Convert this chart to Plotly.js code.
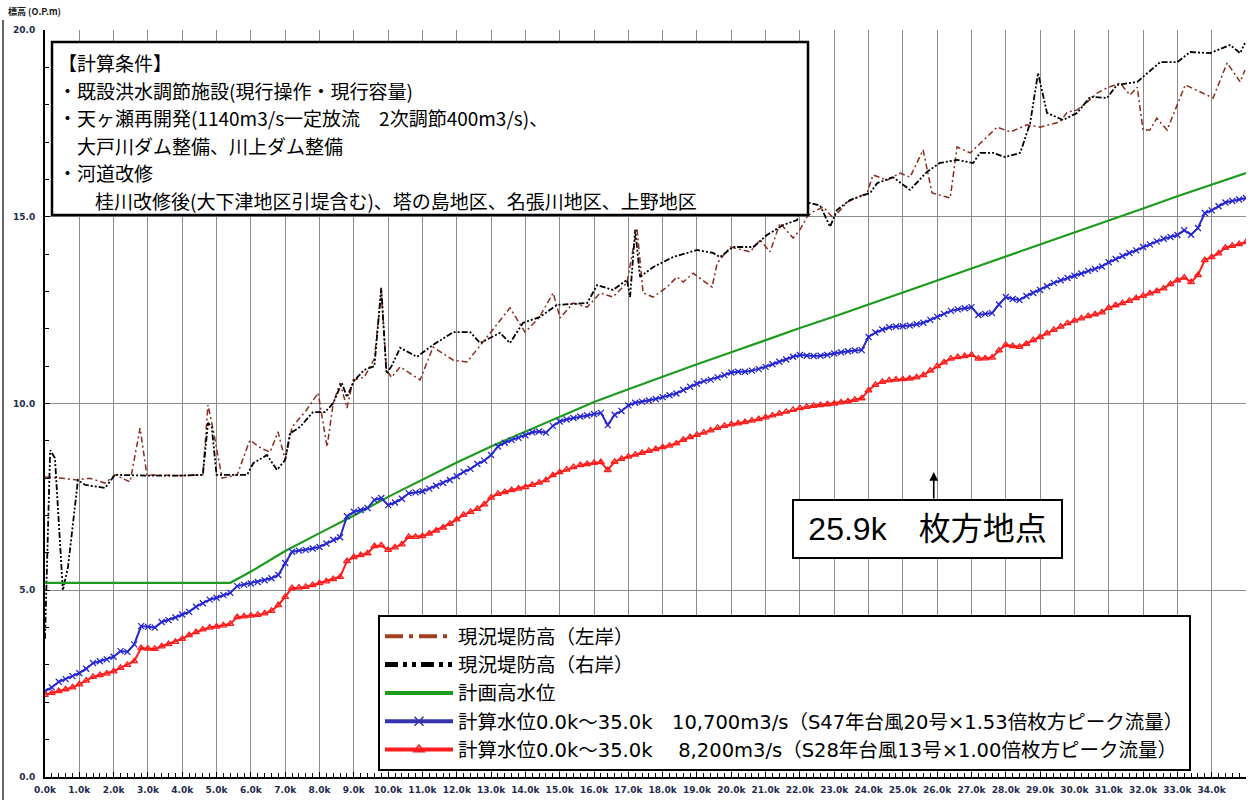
<!DOCTYPE html>
<html>
<head>
<meta charset="utf-8">
<script src="https://cdn.plot.ly/plotly-3.0.1.min.js"></script>
<style>
html,body{margin:0;padding:0;background:#fff;}
#chart{width:1257px;height:800px;}
</style>
</head>
<body>
<div id="chart"></div>
<script>
// ---- data ----
const stationKm = Array.from({length: 176}, (_, i) => Math.round(i * 2) / 10);

const blue10700 = [
  2.30,2.40,2.55,2.62,2.70,
  2.78,2.90,3.05,3.10,3.15,
  3.22,3.37,3.35,3.55,4.04,
  4.02,4.00,4.15,4.20,4.27,
  4.35,4.42,4.56,4.65,4.75,
  4.80,4.87,4.93,5.11,5.15,
  5.18,5.22,5.27,5.32,5.41,
  5.73,6.03,6.06,6.08,6.12,
  6.16,6.25,6.35,6.42,6.98,
  7.10,7.15,7.20,7.42,7.47,
  7.28,7.35,7.45,7.60,7.62,
  7.65,7.72,7.80,7.87,7.95,
  8.05,8.17,8.25,8.38,8.47,
  8.62,8.85,8.95,9.02,9.08,
  9.15,9.23,9.25,9.22,9.40,
  9.52,9.57,9.61,9.65,9.68,
  9.72,9.75,9.42,9.70,9.80,
  9.95,10.02,10.05,10.08,10.12,
  10.17,10.22,10.27,10.36,10.45,
  10.53,10.60,10.64,10.70,10.76,
  10.83,10.85,10.85,10.88,10.92,
  10.98,11.05,11.12,11.18,11.25,
  11.30,11.28,11.27,11.28,11.30,
  11.34,11.37,11.40,11.42,11.43,
  11.78,11.90,11.98,12.04,12.06,
  12.07,12.09,12.12,12.16,12.24,
  12.32,12.40,12.48,12.52,12.55,
  12.58,12.37,12.40,12.42,12.65,
  12.85,12.80,12.77,12.88,12.96,
  13.04,13.14,13.23,13.30,13.36,
  13.42,13.48,13.55,13.60,13.67,
  13.78,13.87,13.95,14.03,14.10,
  14.19,14.26,14.34,14.41,14.46,
  14.51,14.64,14.52,14.70,15.10,
  15.17,15.28,15.38,15.42,15.46,
  15.50
];

const red8200 = [
  2.20,2.25,2.30,2.35,2.40,
  2.48,2.58,2.68,2.73,2.77,
  2.83,2.92,3.00,3.10,3.45,
  3.44,3.43,3.50,3.56,3.62,
  3.70,3.80,3.88,3.95,4.00,
  4.03,4.06,4.10,4.28,4.30,
  4.32,4.34,4.38,4.45,4.60,
  4.82,5.06,5.07,5.09,5.14,
  5.19,5.24,5.30,5.36,5.78,
  5.89,5.94,5.99,6.18,6.20,
  6.08,6.15,6.23,6.43,6.43,
  6.45,6.52,6.60,6.68,6.78,
  6.90,7.02,7.10,7.18,7.30,
  7.48,7.58,7.63,7.68,7.72,
  7.76,7.82,7.88,7.95,8.08,
  8.16,8.23,8.30,8.35,8.38,
  8.41,8.43,8.22,8.44,8.52,
  8.58,8.63,8.68,8.73,8.78,
  8.83,8.87,8.93,9.03,9.10,
  9.16,9.22,9.28,9.35,9.40,
  9.44,9.47,9.50,9.54,9.58,
  9.63,9.68,9.73,9.78,9.83,
  9.88,9.91,9.94,9.96,9.98,
  10.00,10.03,10.06,10.10,10.14,
  10.35,10.50,10.58,10.62,10.64,
  10.65,10.67,10.70,10.76,10.88,
  11.00,11.10,11.20,11.24,11.27,
  11.30,11.20,11.21,11.23,11.42,
  11.57,11.54,11.52,11.60,11.70,
  11.78,11.88,11.97,12.06,12.15,
  12.22,12.28,12.34,12.39,12.44,
  12.56,12.63,12.69,12.75,12.82,
  12.88,12.95,13.01,13.08,13.20,
  13.30,13.37,13.25,13.44,13.84,
  13.92,14.02,14.17,14.22,14.27,
  14.32
];

const planKm  = [0, 5.4, 6.0, 7.0, 8.0, 9.0, 10.0, 11.0, 12.0, 13.0, 14.0, 15.0, 16.0, 17.0, 18.0, 19.0, 20.0, 21.0, 22.0, 23.0, 24.0, 25.0, 26.0, 27.0, 28.0, 29.0, 30.0, 31.0, 32.0, 33.0, 34.0, 35.0];
const planHWL = [5.2, 5.2, 5.5, 6.05, 6.53, 7.0, 7.5, 7.97, 8.42, 8.85, 9.25, 9.65, 10.04, 10.38, 10.72, 11.05, 11.37, 11.7, 12.02, 12.33, 12.65, 12.97, 13.3, 13.6, 13.92, 14.25, 14.57, 14.9, 15.22, 15.55, 15.87, 16.17];

const leftKm = [0.0,0.5,0.93,1.3,1.75,2.04,2.48,2.77,2.97,3.5,4.0,4.6,4.75,4.9,5.16,5.6,5.97,6.3,6.56,6.79,7.0,7.2,7.6,7.96,8.22,8.4,8.6,8.8,8.98,9.3,9.6,9.8,9.95,10.1,10.35,10.93,11.31,11.9,12.3,12.88,13.55,13.99,14.4,14.81,15.01,15.39,15.8,16.18,16.55,16.96,17.25,17.43,17.72,18.13,18.42,18.6,18.89,19.15,19.44,19.59,19.97,20.55,20.84,21.13,21.42,21.8,22.0,22.21,22.38,22.68,22.97,23.38,23.96,24.13,24.54,24.92,25.21,25.59,25.85,26.38,26.58,26.96,27.34,27.75,28.13,28.62,29.0,29.58,29.79,30.08,30.37,30.66,30.95,31.33,31.62,31.83,32.0,32.2,32.4,32.7,33.23,34.04,34.45,34.83,34.97];
const leftBank = [8.03,8.0,7.95,8.0,7.87,8.09,7.9,9.34,8.09,8.07,8.07,8.09,9.96,9.3,8.0,8.09,9.02,8.8,8.7,9.24,8.49,9.37,9.8,10.28,8.84,10.01,10.55,9.88,10.63,10.7,11.2,13.0,10.9,10.7,10.98,10.63,11.51,11.16,11.11,11.78,12.56,11.91,12.3,12.96,12.29,12.69,12.58,12.96,12.85,13.23,14.7,12.96,12.85,13.12,13.39,13.25,13.49,13.31,13.12,13.76,14.19,14.06,14.38,14.06,14.83,14.43,14.65,15.0,15.13,15.26,14.97,15.39,15.64,16.12,15.98,16.17,16.06,16.79,15.64,15.5,16.87,16.71,17.05,17.4,17.27,17.46,17.4,17.54,17.8,17.86,18.07,18.31,18.45,18.58,18.26,18.47,17.32,17.32,17.64,17.32,18.53,18.18,19.12,18.61,18.93];

const rightKm = [0.0,0.15,0.29,0.52,0.67,0.96,1.17,1.6,1.75,2.04,3.0,4.0,4.6,4.75,4.86,5.0,5.89,6.07,6.47,6.76,7.0,7.14,7.43,7.81,8.16,8.4,8.65,8.8,9.0,9.3,9.6,9.8,9.95,10.1,10.35,10.84,11.31,11.9,12.39,12.68,13.26,13.55,13.93,14.43,14.92,15.8,16.09,16.55,16.96,17.05,17.2,17.34,17.72,18.3,19.0,19.47,19.67,20.05,20.64,21.04,21.51,21.92,22.0,22.3,22.59,22.88,23.08,23.46,24.05,24.25,24.71,25.21,25.7,26.08,26.58,27.05,27.25,27.63,27.98,28.42,28.71,28.94,29.2,29.67,30.08,30.46,30.95,31.24,31.83,32.5,33.0,33.37,33.95,34.54,34.83,34.97];
const rightBank = [3.7,8.75,8.54,5.0,5.62,7.95,7.82,7.76,7.74,8.09,8.07,8.07,8.09,9.48,9.37,8.09,8.09,8.4,8.62,8.22,8.49,9.2,9.37,9.77,9.77,10.01,10.55,10.17,10.6,10.9,11.0,13.1,10.8,11.0,11.49,11.25,11.57,11.91,11.91,11.62,11.89,11.62,12.16,12.32,12.64,12.69,13.17,13.04,13.31,12.85,14.65,13.39,13.65,13.92,14.11,14.03,13.92,14.19,14.19,14.51,14.78,14.91,15.3,15.37,15.3,14.73,15.18,15.45,15.64,15.9,16.06,15.72,16.2,16.44,16.52,16.44,16.71,16.71,16.6,16.71,17.51,18.85,17.78,17.59,17.78,18.21,18.18,18.53,18.61,19.14,19.14,19.41,19.38,19.6,19.38,19.65];

const xTickVals = Array.from({length: 36}, (_, i) => i);
const xTickText = xTickVals.map(v => v < 35 ? v.toFixed(1) + 'k' : '<b>距離標</b>');

const seriesNames = [
  '現況堤防高（左岸）',
  '現況堤防高（右岸）',
  '計画高水位',
  '計算水位0.0k～35.0k　10,700m3/s（S47年台風20号×1.53倍枚方ピーク流量）',
  '計算水位0.0k～35.0k　 8,200m3/s（S28年台風13号×1.00倍枚方ピーク流量）'
];

const conditionLines = [
  '【計算条件】',
  '・既設洪水調節施設(現行操作・現行容量)',
  '・天ヶ瀬再開発(1140m3/s一定放流　2次調節400m3/s)、',
  '大戸川ダム整備、川上ダム整備',
  '・河道改修',
  '桂川改修後(大下津地区引堤含む)、塔の島地区、名張川地区、上野地区'
];
const pointLabel = '25.9k　枚方地点';
const pointKm = 25.9;
const yAxisLabel = '標高 (O.P.m)';

// ---- styles ----
const C_LEFT = '#8b2c1c', C_RIGHT = '#000000', C_GREEN = '#1c9c1c', C_BLUE = '#2626d4', C_RED = '#ff1c1c';
const JP = '"Noto Sans CJK JP", "Noto Sans", sans-serif';
const JP_WIDE = '"DejaVu Sans", "Noto Sans CJK JP", sans-serif';

const traces = [
  {x: leftKm, y: leftBank, mode: 'lines', showlegend: false, hoverinfo: 'skip',
   line: {color: C_LEFT, width: 1.5, dash: '6px,3px,2px,3px'}},
  {x: rightKm, y: rightBank, mode: 'lines', showlegend: false, hoverinfo: 'skip',
   line: {color: C_RIGHT, width: 1.8, dash: '6px,2px,2px,2px,2px,2px'}},
  {x: planKm, y: planHWL, mode: 'lines', showlegend: false,
   line: {color: C_GREEN, width: 2.2}},
  {x: stationKm, y: blue10700, mode: 'lines+markers', showlegend: false,
   line: {color: C_BLUE, width: 2}, marker: {symbol: 'x-thin-open', size: 6, color: C_BLUE, line: {color: C_BLUE, width: 1.3}}},
  {x: stationKm, y: red8200, mode: 'lines+markers', showlegend: false,
   line: {color: C_RED, width: 2}, marker: {symbol: 'triangle-up-open', size: 6, color: C_RED, line: {color: C_RED, width: 1.3}}},
  // legend entries (no data)
  {x: [null], y: [null], mode: 'lines', name: seriesNames[0],
   line: {color: '#a0401c', width: 4, dash: '18px,6px,4px,6px'}},
  {x: [null], y: [null], mode: 'lines', name: seriesNames[1],
   line: {color: '#000', width: 5, dash: '13px,5px,4px,5px,4px,5px'}},
  {x: [null], y: [null], mode: 'lines', name: seriesNames[2],
   line: {color: C_GREEN, width: 4}},
  {x: [null], y: [null], mode: 'lines+markers', name: seriesNames[3],
   line: {color: '#3434b0', width: 4}, marker: {symbol: 'x-thin-open', size: 9, color: '#3434b0', line: {color: '#3434b0', width: 1.5}}},
  {x: [null], y: [null], mode: 'lines+markers', name: seriesNames[4],
   line: {color: C_RED, width: 4}, marker: {symbol: 'triangle-up-open', size: 9, color: C_RED, line: {color: C_RED, width: 1.5}}}
];

const ML = 45, MT = 30, W = 1257, H = 800, MR = 11, MB = 23;
const PW = W - ML - MR, PH = H - MT - MB;
const px = v => (v - ML) / PW;        // pixel -> paper x
const py = v => (H - MB - v) / PH;    // pixel -> paper y

const condX = [57, 57, 57, 76, 57, 94];
const condY = [62.5, 90.1, 117.7, 145.3, 172.9, 200.5];

const annotations = conditionLines.map((t, i) => ({
  xref: 'paper', yref: 'paper', x: px(condX[i]), y: py(condY[i]),
  xanchor: 'left', yanchor: 'middle', align: 'left',
  text: t, showarrow: false, borderpad: 0,
  font: {family: JP, size: 19, color: '#000'}
}));

annotations.push(
  {
    xref: 'paper', yref: 'paper', x: px(927.5), y: py(529),
    xanchor: 'center', yanchor: 'middle',
    text: pointLabel, showarrow: false,
    bgcolor: '#fff', bordercolor: '#000', borderwidth: 2, borderpad: 2,
    width: 263, height: 52, align: 'center',
    font: {family: '"Liberation Sans", "Noto Sans CJK JP", sans-serif', size: 32, color: '#000'}
  },
  {
    xref: 'x', yref: 'paper', x: pointKm, y: py(472), text: '',
    showarrow: true, arrowhead: 2, arrowsize: 1.1, arrowwidth: 1.6, arrowcolor: '#000',
    axref: 'pixel', ayref: 'pixel', ax: 0, ay: 28
  },
  {
    xref: 'paper', yref: 'paper', x: px(6), y: py(12), xanchor: 'left', yanchor: 'middle',
    text: yAxisLabel, showarrow: false,
    font: {family: JP, size: 9, color: '#1a1a1a', weight: 700}
  }
);

const shapes = [
  {type: 'rect', xref: 'paper', yref: 'paper', x0: px(52), x1: px(808), y0: py(215), y1: py(42),
   line: {color: '#000', width: 2.5}, fillcolor: '#fff', layer: 'above'},
  {type: 'line', xref: 'paper', yref: 'paper', x0: px(3), x1: px(3), y0: py(800), y1: py(20),
   line: {color: '#333', width: 1.5}}
];

const tickFont = {family: '"DejaVu Sans", sans-serif', size: 9, color: '#1e2b4d', weight: 700};

const layout = {
  width: W, height: H,
  margin: {l: ML, r: MR, t: MT, b: MB, pad: 0},
  paper_bgcolor: '#fff', plot_bgcolor: '#fff',
  showlegend: true,
  legend: {
    x: px(378), y: py(615), xanchor: 'left', yanchor: 'top',
    bgcolor: '#fff', bordercolor: '#000', borderwidth: 2,
    font: {family: JP_WIDE, size: 19.5, color: '#000'},
    itemwidth: 68, tracegroupgap: 0
  },
  xaxis: {
    range: [0, 35], tickvals: xTickVals, ticktext: xTickText,
    showgrid: true, gridcolor: '#8c8c8c', gridwidth: 1,
    showline: true, linecolor: '#000', linewidth: 2, mirror: false,
    ticks: 'inside', ticklen: 5, tickcolor: '#000', zeroline: false,
    minor: {dtick: 0.2, ticks: 'inside', ticklen: 4, tickcolor: '#000', showgrid: false},
    tickfont: tickFont, ticklabelstandoff: 3, fixedrange: true
  },
  yaxis: {
    range: [0, 20], dtick: 5, tickformat: '.1f',
    showgrid: true, gridcolor: '#8c8c8c', gridwidth: 1,
    showline: true, linecolor: '#000', linewidth: 2, mirror: false,
    ticks: 'inside', ticklen: 5, tickcolor: '#000', zeroline: false,
    minor: {dtick: 1, ticks: 'inside', ticklen: 4, tickcolor: '#000', showgrid: false},
    tickfont: tickFont, ticklabelstandoff: 6, fixedrange: true
  },
  annotations: annotations,
  shapes: shapes
};

Plotly.newPlot('chart', traces, layout, {staticPlot: true, displayModeBar: false});
</script>
</body>
</html>
